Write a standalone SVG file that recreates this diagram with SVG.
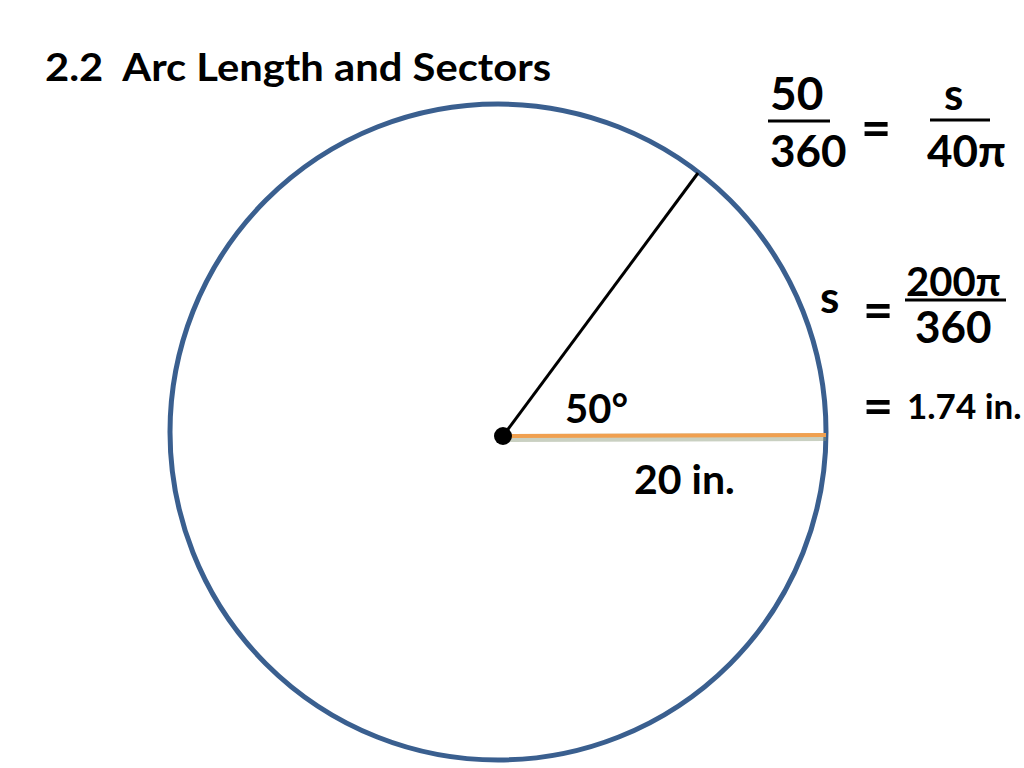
<svg xmlns="http://www.w3.org/2000/svg" width="1024" height="768" viewBox="0 0 1024 768">
<style>
text{font-family:"Lato","Open Sans","Liberation Sans",sans-serif;font-weight:bold;fill:#000}
.bar{stroke:#000;stroke-width:3}
</style>
<rect width="1024" height="768" fill="#fff"/>
<text x="45" y="81" font-size="39" xml:space="preserve" textLength="506" lengthAdjust="spacingAndGlyphs">2.2  Arc Length and Sectors</text>
<g id="circle">
<circle cx="498" cy="432" r="328" fill="none" stroke="#3a5f8f" stroke-width="5"/>
</g>
<g id="connectors">
<line x1="503" y1="438" x2="826" y2="437" stroke="#8a9878" stroke-width="8" opacity="0.45"/>
<line x1="503" y1="436" x2="698" y2="173" stroke="#000" stroke-width="3"/>
<line x1="503" y1="436" x2="826" y2="435" stroke="#f0a050" stroke-width="4"/>
</g>
<g id="center"><circle cx="503" cy="436" r="9" fill="#000"/></g>
<text x="565" y="423" font-size="40">50°</text>
<text x="634" y="494" font-size="41">20 in.</text>
<g id="eq1">
<text x="770" y="110" font-size="46">50</text>
<line class="bar" x1="768" y1="121" x2="830" y2="121"/>
<text x="770" y="167" font-size="44">360</text>
<text x="861" y="146" font-size="52">=</text>
<text x="944" y="110" font-size="44">s</text>
<line class="bar" x1="930" y1="120" x2="990" y2="120"/>
<text x="927" y="167" font-size="44">40π</text>
</g>
<g id="eq2">
<text x="820" y="313" font-size="44">s</text>
<text x="863" y="328" font-size="52">=</text>
<text x="906" y="296" font-size="40">200π</text>
<line class="bar" x1="905" y1="300" x2="1006" y2="300"/>
<text x="915" y="343" font-size="44">360</text>
</g>
<g id="eq3">
<text x="863" y="424" font-size="52">=</text>
<text x="907" y="419" font-size="35">1.74 in.</text>
</g>
</svg>
